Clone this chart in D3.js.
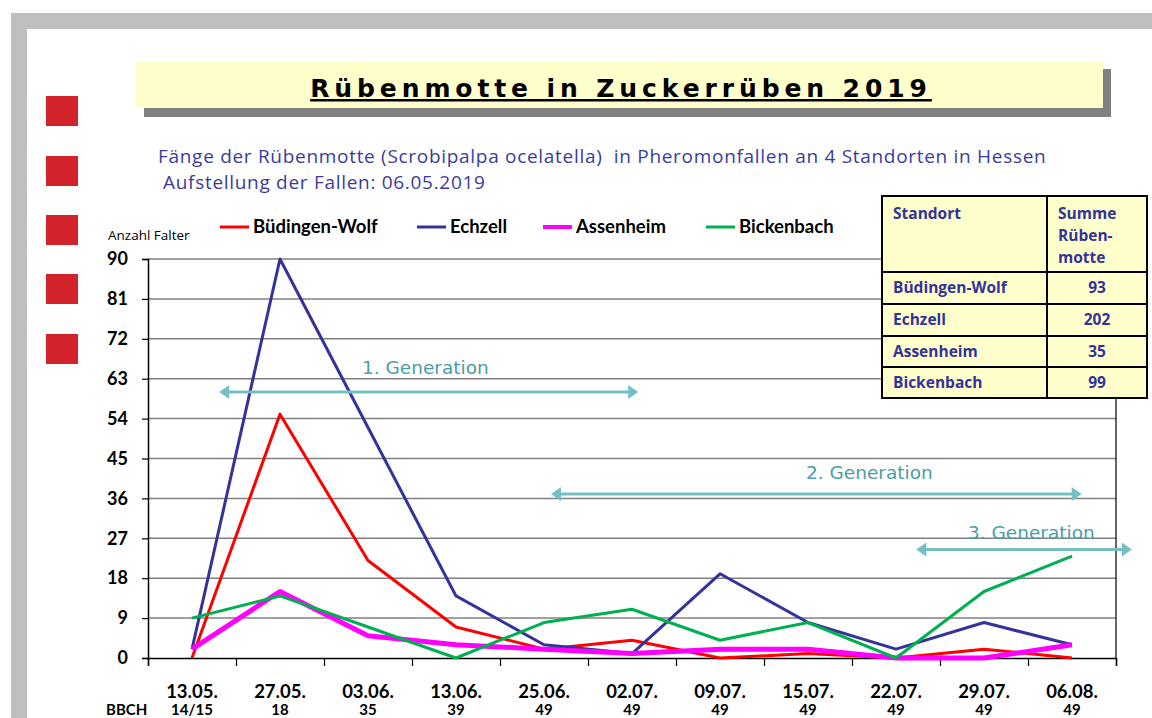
<!DOCTYPE html>
<html><head><meta charset="utf-8">
<script src="https://cdn.jsdelivr.net/npm/d3@7"></script>
<style>body{margin:0;background:#fff;}svg{display:block;}</style>
</head><body>
<script>
const dates = ["13.05.","27.05.","03.06.","13.06.","25.06.","02.07.","09.07.","15.07.","22.07.","29.07.","06.08."];
const bbch = ["14/15","18","35","39","49","49","49","49","49","49","49"];
const seriesNames = ["Büdingen-Wolf","Echzell","Assenheim","Bickenbach"];
const buedingen = [0,55,22,7,2,4,0,1,0,2,0];
const echzell = [2,90,52,14,3,1,19,8,2,8,3];
const assenheim = [2,15,5,3,2,1,2,2,0,0,3];
const bickenbach = [9,14,7,0,8,11,4,8,0,15,23];
const yTicks = [0,9,18,27,36,45,54,63,72,81,90];
const totals = [93,202,35,99];
const generations = [
  {label:"1. Generation", from:0.81, to:5.57, y:60},
  {label:"2. Generation", from:4.58, to:10.61, y:37},
  {label:"3. Generation", from:8.73, to:11.18, y:24.5}
];
const colors = ["#ff0000","#333399","#ff00ff","#00b050"];
const widths = [3,3,5,3];
const seriesData = [buedingen, echzell, assenheim, bickenbach];

const W=1152,H=718;
const svg = d3.select("body").append("svg").attr("width",W).attr("height",H);
const FONT = "Lato, 'Open Sans', sans-serif";
const OS = "'Open Sans', sans-serif";
const DV = "'DejaVu Sans', sans-serif";

// frame
svg.append("rect").attr("x",11).attr("y",13).attr("width",W).attr("height",H).attr("fill","#bfbfbf");
svg.append("rect").attr("x",27).attr("y",29).attr("width",W).attr("height",H).attr("fill","#fff");

// red squares
[96,156,215,274,334].forEach(y=>svg.append("rect").attr("x",46).attr("y",y).attr("width",32).attr("height",30).attr("fill","#d2232a"));

// title box
svg.append("rect").attr("x",144).attr("y",69).attr("width",967).attr("height",48).attr("fill","#808080");
svg.append("rect").attr("x",136).attr("y",61).attr("width",967).attr("height",47).attr("fill","#ffffcc");
svg.append("text").attr("x",621).attr("y",97).attr("text-anchor","middle")
  .attr("font-family",DV).attr("font-weight","bold").attr("font-size",25)
  .attr("letter-spacing","4.9px").attr("text-decoration","underline").attr("fill","#000")
  .text("Rübenmotte in Zuckerrüben 2019");

// subtitle
svg.append("text").attr("x",158).attr("y",163).attr("font-family",OS).attr("font-size",19).attr("letter-spacing","0.7px").attr("fill","#3b3b9d")
  .style("white-space","pre")
  .text("Fänge der Rübenmotte (Scrobipalpa ocelatella)  in Pheromonfallen an 4 Standorten in Hessen");
svg.append("text").attr("x",163).attr("y",189).attr("font-family",OS).attr("font-size",19).attr("letter-spacing","0.7px").attr("fill","#3b3b9d")
  .text("Aufstellung der Fallen: 06.05.2019");

// scales
const x0=148,x1=1116,yTop=259,yBot=658;
const xBand = d3.scaleBand().domain(dates).range([x0,x1]).padding(0);
const xLin = d3.scaleLinear().domain([0,dates.length]).range([x0,x1]);
const y = d3.scaleLinear().domain([0,90]).range([yBot,yTop]);

// gridlines
svg.append("g").selectAll("line").data(yTicks.filter(d=>d>0)).join("line")
  .attr("x1",x0).attr("x2",x1).attr("y1",d=>y(d)).attr("y2",d=>y(d))
  .attr("stroke","#808080").attr("stroke-width",1.5);
// right border
svg.append("line").attr("x1",x1).attr("x2",x1).attr("y1",yTop).attr("y2",yBot).attr("stroke","#000").attr("stroke-width",1.2);

// y axis
const yAxis = svg.append("g").attr("transform",`translate(${x0},0)`)
  .call(d3.axisLeft(y).tickValues(yTicks).tickSize(6).tickPadding(14));
yAxis.select(".domain").attr("stroke","#000").attr("stroke-width",1.5);
yAxis.selectAll(".tick line").attr("stroke","#000").attr("stroke-width",1.2);
yAxis.selectAll("text").attr("font-family",FONT).attr("font-weight","bold").attr("font-size",18).attr("fill","#000");

// x axis
const xAxis = svg.append("g").attr("transform",`translate(0,${yBot})`)
  .call(d3.axisBottom(xLin).tickValues(d3.range(0,dates.length+1)).tickSize(8).tickFormat(""));
xAxis.select(".domain").attr("stroke","#000").attr("stroke-width",1.5);
xAxis.selectAll(".tick line").attr("stroke","#000").attr("stroke-width",1.2);

svg.append("g").selectAll("text").data(dates).join("text")
  .attr("x",d=>xBand(d)+xBand.bandwidth()/2).attr("y",698).attr("text-anchor","middle")
  .attr("font-family",FONT).attr("font-weight","bold").attr("font-size",18.5).text(d=>d);
svg.append("g").selectAll("text").data(bbch).join("text")
  .attr("x",(d,i)=>xBand(dates[i])+xBand.bandwidth()/2).attr("y",715).attr("text-anchor","middle")
  .attr("font-family",FONT).attr("font-weight","bold").attr("font-size",15).text(d=>d);
svg.append("text").attr("x",106).attr("y",715).attr("font-family",FONT).attr("font-weight","bold").attr("font-size",15).text("BBCH");

svg.append("text").attr("x",108).attr("y",240).attr("font-family",OS).attr("font-size",13.5).attr("fill","#000").text("Anzahl Falter");

// lines
const line = d3.line().x((d,i)=>xBand(dates[i])+xBand.bandwidth()/2).y(d=>y(d));
seriesData.forEach((s,k)=>{
  svg.append("path").datum(s).attr("d",line).attr("fill","none")
    .attr("stroke",colors[k]).attr("stroke-width",widths[k]).attr("stroke-linejoin","round");
});

// legend
const legX = [220,417,543,706];
seriesNames.forEach((n,k)=>{
  svg.append("line").attr("x1",legX[k]).attr("x2",legX[k]+29).attr("y1",227).attr("y2",227)
    .attr("stroke",colors[k]).attr("stroke-width",k==2?4:3);
  svg.append("text").attr("x",legX[k]+33).attr("y",233).attr("font-family",FONT).attr("font-weight","bold")
    .attr("font-size",18.5).text(n);
});

// generation arrows
const arrowCol="#74bfc4";
generations.forEach(g=>{
  const xa=xLin(g.from), xb=xLin(g.to), yy=y(g.y);
  svg.append("line").attr("x1",xa+8).attr("x2",xb-8).attr("y1",yy).attr("y2",yy).attr("stroke",arrowCol).attr("stroke-width",3);
  svg.append("path").attr("d",`M${xa},${yy}L${xa+10},${yy-7}L${xa+10},${yy+7}Z`).attr("fill",arrowCol);
  svg.append("path").attr("d",`M${xb},${yy}L${xb-10},${yy-7}L${xb-10},${yy+7}Z`).attr("fill",arrowCol);
});
const genTextX = [362,806,968];
const genTextY = [374,479,539];
generations.forEach((g,i)=>{
  svg.append("text").attr("x",genTextX[i]).attr("y",genTextY[i]).attr("font-family",DV)
    .attr("font-size",18.5).attr("fill","#4b9ea2").text(g.label);
});

// table
const tx0=882, tx1=1147, tcol=1047;
const rowY=[196,272,304,336,367,398];
const tbl = svg.append("g");
tbl.append("rect").attr("x",tx0).attr("y",rowY[0]).attr("width",tx1-tx0).attr("height",rowY[5]-rowY[0])
  .attr("fill","#ffffcc").attr("stroke","#000").attr("stroke-width",2);
rowY.slice(1,5).forEach(r=>tbl.append("line").attr("x1",tx0).attr("x2",tx1).attr("y1",r).attr("y2",r).attr("stroke","#000").attr("stroke-width",2));
tbl.append("line").attr("x1",tcol).attr("x2",tcol).attr("y1",rowY[0]).attr("y2",rowY[5]).attr("stroke","#000").attr("stroke-width",2);
const tc="#333399";
const TF = OS, TS = 15.5;
tbl.append("text").attr("x",893).attr("y",219).attr("font-family",TF).attr("font-weight","bold").attr("font-size",TS).attr("fill",tc).text("Standort");
["Summe","Rüben-","motte"].forEach((t,i)=>tbl.append("text").attr("x",1058).attr("y",219+i*22).attr("font-family",TF).attr("font-weight","bold").attr("font-size",TS).attr("fill",tc).text(t));
seriesNames.forEach((n,i)=>{
  const by = rowY[i+1] + 21;
  tbl.append("text").attr("x",893).attr("y",by).attr("font-family",TF).attr("font-weight","bold").attr("font-size",TS).attr("fill",tc).text(n);
  tbl.append("text").attr("x",(tcol+tx1)/2).attr("y",by).attr("text-anchor","middle").attr("font-family",TF).attr("font-weight","bold").attr("font-size",TS).attr("fill",tc).text(totals[i]);
});
</script>
</body></html>
